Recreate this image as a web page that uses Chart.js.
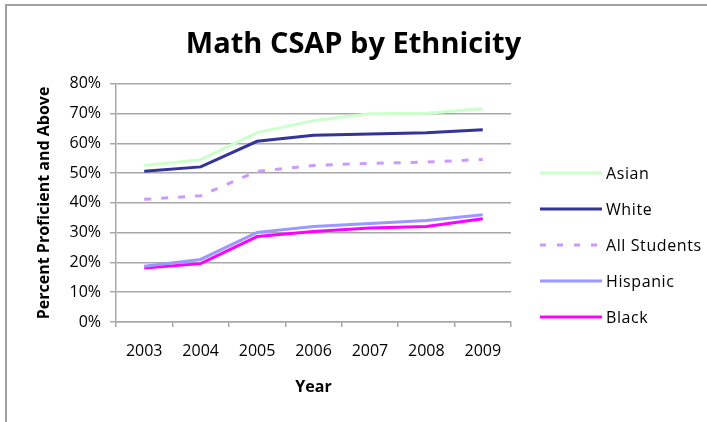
<!DOCTYPE html>
<html>
<head>
<meta charset="utf-8">
<script src="https://cdn.jsdelivr.net/npm/chart.js@4"></script>
<style>
  html, body { margin: 0; padding: 0; background: #fff; overflow: hidden; }
  #wrap { position: relative; width: 707px; height: 422px; }
  #frame {
    position: absolute; left: 5px; top: 4px; width: 800px; height: 500px;
    border-left: 2px solid #a0a0a0; border-top: 2px solid #a0a0a0;
  }
  #chart { position: absolute; left: 0; top: 0; }
</style>
</head>
<body>
<div id="wrap">
  <div id="frame"></div>
  <canvas id="chart" width="707" height="422"></canvas>
</div>
<script>
// ====== DADOS ======
const years = ["2003", "2004", "2005", "2006", "2007", "2008", "2009"];
const asian = [52.6, 54.5, 63.6, 67.6, 69.9, 70.1, 71.6];
const white = [50.6, 52.1, 60.7, 62.7, 63.1, 63.6, 64.6];
const allStudents = [41.2, 42.4, 50.6, 52.6, 53.3, 53.7, 54.6];
const hispanic = [18.7, 21.0, 30.1, 32.1, 33.1, 34.1, 36.0];
const black = [18.1, 19.6, 28.7, 30.4, 31.6, 32.1, 34.7];

const gridColor = "#a8a8a8";
const fontFamily = "'Open Sans', sans-serif";

const serie = (label, data, color, dash) => ({
  label,
  data,
  borderColor: color,
  backgroundColor: color,
  borderWidth: 3,
  borderDash: dash || [],
  pointRadius: 0,
  tension: 0,
  fill: false
});

// legenda desenhada à direita (linha + texto)
const legendaDireita = {
  id: "legendaDireita",
  afterDraw(chart) {
    const c = chart.ctx;
    chart.data.datasets.forEach((ds, i) => {
      const y = 173 + i * 36;
      c.save();
      c.strokeStyle = ds.borderColor;
      c.lineWidth = ds.borderWidth;
      c.setLineDash(ds.borderDash.length ? [6, 11] : []);
      c.beginPath();
      c.moveTo(540, y);
      c.lineTo(602, y);
      c.stroke();
      c.setLineDash([]);
      c.fillStyle = "#000";
      c.font = "16px " + fontFamily;
      c.letterSpacing = "0.6px";
      c.textBaseline = "middle";
      c.fillText(ds.label, 606, y + 1);
      c.restore();
    });
  }
};

const ctx = document.getElementById("chart").getContext("2d");

new Chart(ctx, {
  type: "line",
  data: {
    labels: years,
    datasets: [
      serie("Asian", asian, "#ccffcc"),
      serie("White", white, "#333399"),
      serie("All Students", allStudents, "#cc99ff", [7, 10]),
      serie("Hispanic", hispanic, "#9999ff"),
      serie("Black", black, "#ff00ff")
    ]
  },
  plugins: [legendaDireita],
  options: {
    responsive: false,
    devicePixelRatio: 1,
    animation: false,
    layout: { padding: 0 },
    plugins: {
      title: {
        display: true,
        text: "Math CSAP by Ethnicity",
        color: "#000",
        font: { family: fontFamily, size: 29, weight: "bold" },
        padding: { top: 27, bottom: 22 }
      },
      legend: { display: false },
      tooltip: { enabled: false }
    },
    scales: {
      x: {
        offset: true,
        afterFit: s => { s.height = 100; },
        grid: {
          offset: true,
          drawOnChartArea: false,
          drawTicks: true,
          tickLength: 5,
          color: gridColor,
          lineWidth: 1.5
        },
        border: { display: true, color: gridColor, width: 1.5 },
        ticks: { color: "#000", padding: 15, font: { family: fontFamily, size: 16 } },
        title: {
          display: true,
          text: "Year",
          color: "#000",
          font: { family: fontFamily, size: 16, weight: "bold" },
          padding: 25
        }
      },
      y: {
        min: 0,
        max: 80,
        afterFit: s => { s.width = 116; },
        grid: {
          color: gridColor,
          lineWidth: 1.5,
          drawTicks: true,
          tickLength: 6
        },
        border: { display: true, color: gridColor, width: 1.5 },
        ticks: {
          stepSize: 10,
          color: "#000",
          padding: 9,
          font: { family: fontFamily, size: 16 },
          callback: v => v + "%"
        },
        title: {
          display: true,
          text: "Percent Proficient and Above",
          color: "#000",
          font: { family: fontFamily, size: 16, weight: "bold" },
          padding: 35
        }
      },
      // espaço reservado para a legenda
      espaco: {
        position: "right",
        display: true,
        afterFit: s => { s.width = 196; },
        grid: { display: false },
        border: { display: false },
        ticks: { display: false }
      }
    }
  }
});
</script>
</body>
</html>
